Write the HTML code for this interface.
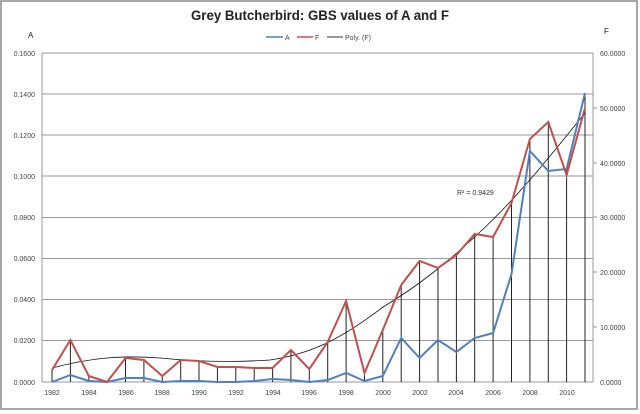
<!DOCTYPE html>
<html><head><meta charset="utf-8"><style>
body{margin:0;background:#fff}
svg{display:block;font-family:"Liberation Sans",sans-serif}
</style></head><body>
<svg width="640" height="414" viewBox="0 0 640 414">
<rect x="0" y="0" width="640" height="414" fill="#fff"/>
<rect x="1" y="1" width="636" height="408" fill="none" stroke="#888" stroke-width="1.5"/>
<text x="320" y="20" text-anchor="middle" font-size="13.5" font-weight="bold" fill="#222" textLength="258" lengthAdjust="spacingAndGlyphs">Grey Butcherbird: GBS values of A and F</text>
<text x="28" y="38" font-size="8" fill="#222">A</text>
<text x="604" y="34" font-size="8" fill="#222">F</text>
<g font-size="7" fill="#444">
<line x1="266" y1="37" x2="283" y2="37" stroke="#4f81bd" stroke-width="1.5"/><text x="285" y="40">A</text>
<line x1="297" y1="37" x2="313" y2="37" stroke="#c0504d" stroke-width="1.5"/><text x="315" y="40">F</text>
<line x1="327" y1="37" x2="343" y2="37" stroke="#333" stroke-width="1"/><text x="345" y="40">Poly. (F)</text>
</g>
<g stroke="#999" stroke-width="1">
<line x1="42" y1="53" x2="593" y2="53"/><line x1="42" y1="94" x2="593" y2="94"/>
<line x1="42" y1="135" x2="593" y2="135"/><line x1="42" y1="176" x2="593" y2="176"/>
<line x1="42" y1="217.5" x2="593" y2="217.5"/><line x1="42" y1="258.5" x2="593" y2="258.5"/>
<line x1="42" y1="299.5" x2="593" y2="299.5"/><line x1="42" y1="340.5" x2="593" y2="340.5"/>
<line x1="42" y1="382" x2="593" y2="382"/>
<line x1="42" y1="53" x2="42" y2="382"/><line x1="593" y1="53" x2="593" y2="382"/>
</g>
<g font-size="7" fill="#444" text-anchor="end">
<text x="35" y="56">0.1600</text><text x="35" y="97">0.1400</text><text x="35" y="138">0.1200</text>
<text x="35" y="179">0.1000</text><text x="35" y="220">0.0800</text><text x="35" y="261">0.0600</text>
<text x="35" y="302">0.0400</text><text x="35" y="343">0.0200</text><text x="35" y="385">0.0000</text>
</g>
<g font-size="7" fill="#444">
<text x="600" y="56">60.0000</text><text x="600" y="111">50.0000</text><text x="600" y="166">40.0000</text>
<text x="600" y="220">30.0000</text><text x="600" y="275">20.0000</text><text x="600" y="330">10.0000</text>
<text x="600" y="385">0.0000</text>
</g>
<g stroke="#999"><line x1="593" y1="108" x2="597" y2="108"/><line x1="593" y1="163" x2="597" y2="163"/><line x1="593" y1="217" x2="597" y2="217"/><line x1="593" y1="272" x2="597" y2="272"/><line x1="593" y1="327" x2="597" y2="327"/></g>
<g font-size="7" fill="#444" text-anchor="middle">
<text x="52" y="395">1982</text><text x="89" y="395">1984</text><text x="126" y="395">1986</text><text x="162" y="395">1988</text><text x="199" y="395">1990</text><text x="236" y="395">1992</text><text x="273" y="395">1994</text><text x="309" y="395">1996</text><text x="346" y="395">1998</text><text x="383" y="395">2000</text><text x="420" y="395">2002</text><text x="456" y="395">2004</text><text x="493" y="395">2006</text><text x="530" y="395">2008</text><text x="567" y="395">2010</text>
</g>
<g stroke="#222" stroke-width="1">
<line x1="52" y1="370" x2="52" y2="382"/><line x1="70.4" y1="340" x2="70.4" y2="382"/><line x1="88.8" y1="376" x2="88.8" y2="382"/><line x1="125.5" y1="358" x2="125.5" y2="382"/><line x1="143.9" y1="360" x2="143.9" y2="382"/><line x1="162.3" y1="376" x2="162.3" y2="382"/><line x1="180.7" y1="360" x2="180.7" y2="382"/><line x1="199" y1="361" x2="199" y2="382"/><line x1="217.4" y1="367" x2="217.4" y2="382"/><line x1="235.8" y1="367" x2="235.8" y2="382"/><line x1="254.2" y1="368" x2="254.2" y2="382"/><line x1="272.6" y1="368" x2="272.6" y2="382"/><line x1="290.9" y1="350" x2="290.9" y2="382"/><line x1="309.3" y1="369" x2="309.3" y2="382"/><line x1="327.7" y1="342" x2="327.7" y2="382"/><line x1="346.1" y1="301" x2="346.1" y2="382"/><line x1="364.5" y1="373" x2="364.5" y2="382"/><line x1="382.8" y1="330" x2="382.8" y2="382"/><line x1="401.2" y1="285" x2="401.2" y2="382"/><line x1="419.6" y1="261" x2="419.6" y2="382"/><line x1="438" y1="268" x2="438" y2="382"/><line x1="456.4" y1="255" x2="456.4" y2="382"/><line x1="474.7" y1="234" x2="474.7" y2="382"/><line x1="493.1" y1="237" x2="493.1" y2="382"/><line x1="511.5" y1="203" x2="511.5" y2="382"/><line x1="529.9" y1="139" x2="529.9" y2="382"/><line x1="548.3" y1="122" x2="548.3" y2="382"/><line x1="566.6" y1="169" x2="566.6" y2="382"/><line x1="585" y1="93" x2="585" y2="382"/>
</g>
<path d="M52,368 C90,358 120,355 160,358 C200,362 240,362 270,360 C310,354 340,340 383,307 C420,285 450,260 480,232 C520,195 555,150 585,113" fill="none" stroke="#111" stroke-width="0.8"/>
<polyline fill="none" stroke="#4f81bd" stroke-width="2" points="52,382 70.4,375 88.8,381 107.1,382 125.5,378 143.9,378 162.3,382 180.7,381 199,381 217.4,382 235.8,382 254.2,381 272.6,379 290.9,380 309.3,382 327.7,380 346.1,373 364.5,381 382.8,376 401.2,338 419.6,358 438,340 456.4,352 474.7,338 493.1,333 511.5,274 529.9,151 548.3,171 566.6,169 585,93"/>
<polyline fill="none" stroke="#c0504d" stroke-width="2" points="52,370 70.4,340 88.8,376 107.1,382 125.5,358 143.9,360 162.3,376 180.7,360 199,361 217.4,367 235.8,367 254.2,368 272.6,368 290.9,350 309.3,369 327.7,342 346.1,301 364.5,373 382.8,330 401.2,285 419.6,261 438,268 456.4,255 474.7,234 493.1,237 511.5,203 529.9,139 548.3,122 566.6,175 585,108"/>
<text x="457" y="195" font-size="7" fill="#333">R² = 0.9429</text>
</svg>
</body></html>
